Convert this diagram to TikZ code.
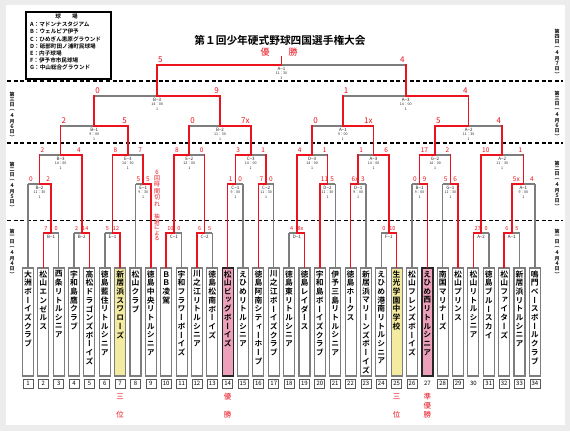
\documentclass[tikz,border=0pt]{standalone}
\usepackage{fontspec}
\setmainfont{Noto Sans CJK JP}[BoldFont={Noto Sans CJK JP Bold}]
\newfontfamily\vjp{Noto Sans CJK JP}[RawFeature=+vert,BoldFont={Noto Sans CJK JP Bold}]
\usetikzlibrary{calc}
\definecolor{lred}{RGB}{235,20,30}
\definecolor{lgray}{RGB}{125,125,125}
\definecolor{bgc}{RGB}{236,236,236}
\definecolor{yel}{RGB}{243,236,160}
\definecolor{pnk}{RGB}{236,160,185}
\pgfdeclarelayer{back}\pgfdeclarelayer{bg}\pgfsetlayers{back,bg,main}
\ExplSyntaxOn
\dim_new:N \l_vt_step_dim
\tl_new:N \l_vt_str_tl
\NewDocumentCommand \vtext { O{8.8pt} m }
  {
    \dim_set:Nn \l_vt_step_dim {#1}
    \tl_set:Nx \l_vt_str_tl {#2}
    \vbox:n
      {
        \offinterlineskip
        \tl_map_inline:Nn \l_vt_str_tl
          {
            \hbox_to_wd:nn { 1em }
              { \hss \vbox_to_ht:nn { \l_vt_step_dim } { \vss \hbox:n {##1} \vss } \hss }
          }
      }
  }
\ExplSyntaxOff
\tikzset{
  win/.style={draw=lred, line width=1.6pt, line cap=rect},
  lose/.style={draw=lgray, line width=1.4pt},
  tbox/.style={draw=lgray, line width=1.1pt, fill=white, minimum width=11pt, minimum height=108pt, inner sep=0},
  tboxY/.style={tbox, fill=yel},
  tboxP/.style={tbox, fill=pnk, draw=black!85, line width=1.3pt},
  tname/.style={anchor=north, inner sep=0, font=\vjp\bfseries\fontsize{7.8}{7.8}\selectfont},
  nbox/.style={draw=black!65, line width=0.7pt, fill=white, minimum width=10pt, minimum height=9pt, inner sep=0, font=\fontsize{6}{6}\selectfont},
  nplain/.style={minimum width=10pt, minimum height=9pt, inner sep=0, font=\fontsize{6}{6}\selectfont},
  sc1/.style={text=lred, inner sep=0, yshift=2pt, font=\fontsize{5.5}{5.5}\selectfont},
  sc2/.style={text=lred, inner sep=0, yshift=2pt, font=\fontsize{6.5}{6.5}\selectfont},
  sc3/.style={text=lred, inner sep=0, yshift=2.2pt, font=\fontsize{8}{8}\selectfont},
  mlab/.style={anchor=north, yshift=-1.6pt, align=center, inner sep=0, text=black!85, font=\fontsize{4.5}{4.6}\selectfont},
  dlab/.style={inner sep=0, font=\vjp\bfseries\fontsize{5}{5}\selectfont},
  leg/.style={anchor=west, inner sep=0, font=\bfseries\fontsize{5.6}{5.6}\selectfont},
  rank/.style={inner sep=0, text=lred, font=\fontsize{7.5}{7.5}\selectfont},
  dashline/.style={draw=black, line width=1.3pt, dash pattern=on 4pt off 2.6pt}
}
\newcommand\boutL[7]{%
  \begin{pgfonlayer}{bg}\draw[lose] (#3 |- #1) -- (#1);\end{pgfonlayer}
  \draw[#4] (#3) -- (#3 |- #1);
  \draw[win] (#2) |- (#1);
  \node[#7, anchor=south west, xshift=0.9pt] at (#2 |- #1) {#5};
  \node[#7, anchor=south east, xshift=-0.9pt] at (#3 |- #1) {#6};
}
\newcommand\boutR[7]{%
  \begin{pgfonlayer}{bg}\draw[lose] (#2 |- #1) -- (#1);\end{pgfonlayer}
  \draw[#4] (#2) -- (#2 |- #1);
  \draw[win] (#3) |- (#1);
  \node[#7, anchor=south west, xshift=0.9pt] at (#2 |- #1) {#5};
  \node[#7, anchor=south east, xshift=-0.9pt] at (#3 |- #1) {#6};
}
\newcommand\mlab[3]{\node[mlab] at (#1) {#2\\{\fontsize{3.6}{4}\selectfont #3}\\{\fontsize{3.6}{4}\selectfont 1}};}
\newcommand\mlabA[2]{\node[mlab] at (#1) {#2};}
\begin{document}
\begin{tikzpicture}[x=1pt,y=-1pt]
\useasboundingbox (0,0) rectangle (570,431);
\begin{pgfonlayer}{back}
  \fill[bgc] (0,0) rectangle (570,431);
  \fill[white] (6,5) rectangle (565,425);
\end{pgfonlayer}

% legend
\node[draw=black, line width=1.6pt, minimum width=85pt, minimum height=67pt, anchor=north west, inner sep=0] (legend) at (25,11) {};
\node[inner sep=0, font=\bfseries\fontsize{5.6}{5.6}\selectfont] (leghead) at (66.5,16) {球　　場};
\node[leg] (lA) at (30,24) {A：マドンナスタジアム};
\node[leg] (lB) at (30,31.5) {B：ウェルピア伊予};
\node[leg] (lC) at (30,39) {C：ひめぎん恵原グラウンド};
\node[leg] (lD) at (30,46) {D：砥部町田ノ浦町民球場};
\node[leg] (lE) at (30,53) {E：内子球場};
\node[leg] (lF) at (30,60) {F：伊予市市民球場};
\node[leg] (lG) at (30,67) {G：中山総合グラウンド};

% title
\node[inner sep=0, font=\bfseries\fontsize{10.7}{11}\selectfont] (title) at (280,40) {第１回少年硬式野球四国選手権大会};
\node[inner sep=0, text=lred, font=\fontsize{9}{9}\selectfont] (yu) at (265,52) {優};
\node[inner sep=0, text=lred, font=\fontsize{9}{9}\selectfont] (sho) at (293,52) {勝};

% dashed separators
\begin{pgfonlayer}{bg}
\coordinate (d1a) at (7,81); \coordinate (d1b) at (563,81);
\coordinate (d2a) at (7,143); \coordinate (d2b) at (563,143);
\coordinate (d3a) at (7,220.5); \coordinate (d3b) at (563,220.5);
\draw[dashline] (d1a) -- (d1b);
\draw[dashline] (d2a) -- (d2b);
\draw[dashline] (d3a) -- (d3b);
\end{pgfonlayer}

% day labels
\node[dlab] (r4) at (557,53) {\vtext[5.4pt]{第四日（４月７日）}};
\node[dlab] (r3) at (557,115) {\vtext[5.4pt]{第三日（４月６日）}};
\node[dlab] (r2) at (557,185) {\vtext[5.4pt]{第二日（４月５日）}};
\node[dlab] (r1) at (557,253) {\vtext[5.4pt]{第一日（４月４日）}};
\node[dlab] (l3) at (12,116) {\vtext[5.4pt]{第三日（４月６日）}};
\node[dlab] (l2) at (12,186) {\vtext[5.4pt]{第二日（４月５日）}};
\node[dlab] (l1) at (12,253) {\vtext[5.4pt]{第一日（４月４日）}};

% teams
\foreach \i/\nm/\ts/\ns in {
 1/大洲ボーイズクラブ/tbox/nbox,
 2/松山エンゼルス/tbox/nbox,
 3/西条リトルシニア/tbox/nbox,
 4/宇和島鷹クラブ/tbox/nbox,
 5/高松ドラゴンズボーイズ/tbox/nbox,
 6/徳島藍住リトルシニア/tbox/nbox,
 7/新居浜スワローズ/tboxY/nbox,
 8/松山クラブ/tbox/nbox,
 9/徳島中央リトルシニア/tbox/nbox,
 10/ＢＢ凌駕/tbox/nbox,
 11/宇和フラワーボーイズ/tbox/nbox,
 12/川之江リトルシニア/tbox/nbox,
 13/徳島松南ボーイズ/tbox/nbox,
 14/松山ビッグボーイズ/tboxP/nbox,
 15/えひめリトルシニア/tbox/nbox,
 16/徳島阿南シティーホープ/tbox/nbox,
 17/川之江ボーイズクラブ/tbox/nbox,
 18/徳島東リトルシニア/tbox/nbox,
 19/徳島レイダース/tbox/nbox,
 20/宇和島ボーイズクラブ/tbox/nbox,
 21/伊予三島リトルシニア/tbox/nbox,
 22/徳島ホークス/tbox/nbox,
 23/新居浜マリーンズボーイズ/tbox/nbox,
 24/えひめ港南リトルシニア/tbox/nbox,
 25/生光学園中学校/tboxY/nbox,
 26/松山フレンズボーイズ/tbox/nbox,
 27/えひめ西リトルシニア/tboxP/nplain,
 28/南国マリナーズ/tbox/nbox,
 29/松山プリンス/tbox/nbox,
 30/松山リトルシニア/tbox/nplain,
 31/徳島ブルースカイ/tbox/nbox,
 32/松山ファイターズ/tbox/nbox,
 33/新居浜リトルシニア/tbox/nbox,
 34/鳴門ベースボールクラブ/tbox/nbox}{
 \node[\ts] (t\i) at ({28+(\i-1)*15.36},322) {};
 \node[tname] (tn\i) at ([yshift=-2.2pt]t\i.north) {\vtext[8.7pt]{\nm}};
 \node[\ns] (n\i) at ({28+(\i-1)*15.36},383.5) {\i};
}

% ranks
\node[rank] (p7a) at (120.16,397) {三};
\node[rank] (p7b) at (120.16,415) {位};
\node[rank] (p14a) at (227.68,397) {優};
\node[rank] (p14b) at (227.68,415) {勝};
\node[rank] (p25a) at (396.64,397) {三};
\node[rank] (p25b) at (396.64,415) {位};
\node[rank] (p27a) at (427.36,397) {準};
\node[rank] (p27b) at (427.36,406) {優};
\node[rank] (p27c) at (427.36,415) {勝};

% match points
\coordinate (mB1) at (51.04,233);  \coordinate (mB2) at (81.76,233);
\coordinate (mE1) at (112.48,233); \coordinate (mC1) at (173.92,233);
\coordinate (mC2) at (204.64,233); \coordinate (mD1) at (296.8,233);
\coordinate (mF1) at (388.96,233); \coordinate (mA2) at (481.12,233);
\coordinate (mA1) at (511.84,233);
\coordinate (nB2) at (39.52,184);  \coordinate (nE1) at (143.2,184);
\coordinate (nC1) at (235.36,184); \coordinate (nC2) at (266.08,184);
\coordinate (nD2) at (327.52,184); \coordinate (nD1) at (358.24,184);
\coordinate (nB1) at (419.68,184); \coordinate (nG1) at (450.4,184);
\coordinate (nA1) at (523.36,184);
\coordinate (uB3) at (60.64,155);  \coordinate (uE3) at (127.84,155);
\coordinate (uE2) at (189.28,155); \coordinate (uC3) at (250.72,155);
\coordinate (uD3) at (312.16,155); \coordinate (uA3) at (373.6,155);
\coordinate (uG2) at (435.04,155); \coordinate (uA2) at (502.24,155);
\coordinate (qB1) at (94.24,126);  \coordinate (qB2) at (220,126);
\coordinate (qA1) at (342.88,126); \coordinate (qA2) at (468.64,126);
\coordinate (sB3) at (157.12,96);  \coordinate (sA3) at (405.76,96);
\coordinate (fin) at (281.44,65);  \coordinate (champ) at (281.44,57);

% round 1
\boutL{mB1}{t2.north}{t3.north}{lose}{7}{0}{sc1}
\boutR{mB2}{t4.north}{t5.north}{lose}{2}{14}{sc1}
\boutR{mE1}{t6.north}{t7.north}{lose}{5}{12}{sc1}
\boutL{mC1}{t10.north}{t11.north}{lose}{10}{0}{sc1}
\boutL{mC2}{t12.north}{t13.north}{lose}{6}{5}{sc1}
\boutR{mD1}{t18.north}{t19.north}{lose}{4}{8x}{sc1}
\boutR{mF1}{t24.north}{t25.north}{lose}{0}{10}{sc1}
\boutL{mA2}{t30.north}{t31.north}{lose}{27}{0}{sc1}
\boutL{mA1}{t32.north}{t33.north}{lose}{6}{5}{sc1}
% round 2 (first games)
\boutR{nB2}{t1.north}{mB1}{lose}{0}{2}{sc2}
\boutR{nE1}{t8.north}{t9.north}{lose}{5}{5}{sc2}
\boutL{nC1}{t14.north}{t15.north}{lose}{1}{0}{sc2}
\boutL{nC2}{t16.north}{t17.north}{lose}{7}{0}{sc2}
\boutL{nD2}{t20.north}{t21.north}{lose}{11}{5}{sc2}
\boutL{nD1}{t22.north}{t23.north}{lose}{6x}{3}{sc2}
\boutR{nB1}{t26.north}{t27.north}{lose}{0}{9}{sc2}
\boutR{nG1}{t28.north}{t29.north}{lose}{5}{6}{sc2}
\boutL{nA1}{mA1}{t34.north}{lose}{5x}{4}{sc2}
% round 2 (second games)
\boutR{uB3}{nB2}{mB2}{win}{2}{4}{sc2}
\boutL{uE3}{mE1}{nE1}{win}{8}{7}{sc2}
\boutL{uE2}{mC1}{mC2}{win}{8}{0}{sc2}
\boutL{uC3}{nC1}{nC2}{win}{3}{1}{sc2}
\boutL{uD3}{mD1}{nD2}{win}{4}{1}{sc2}
\boutR{uA3}{nD1}{mF1}{win}{1}{6}{sc2}
\boutL{uG2}{nB1}{nG1}{win}{17}{2}{sc2}
\boutL{uA2}{mA2}{nA1}{win}{10}{1}{sc2}
% quarterfinals
\boutR{qB1}{uB3}{uE3}{win}{2}{5}{sc3}
\boutR{qB2}{uE2}{uC3}{win}{0}{7x}{sc3}
\boutR{qA1}{uD3}{uA3}{win}{0}{1x}{sc3}
\boutL{qA2}{uG2}{uA2}{win}{5}{4}{sc3}
% semifinals
\boutR{sB3}{qB1}{qB2}{win}{0}{9}{sc3}
\boutR{sA3}{qA1}{qA2}{win}{1}{4}{sc3}
% final
\boutL{fin}{sB3}{sA3}{win}{5}{4}{sc3}
\draw[win] (fin) -- (champ);

% match labels
\mlabA{mB1}{B−1} \mlabA{mB2}{B−2} \mlabA{mE1}{E−1} \mlabA{mC1}{C−1}
\mlabA{mC2}{C−2} \mlabA{mD1}{D−1} \mlabA{mF1}{F−1} \mlabA{mA2}{A−2}
\mlabA{mA1}{A−1}
\mlab{nB2}{B−2}{11：30} \mlab{nE1}{E−1}{9：30} \mlab{nC1}{C−1}{9：00}
\mlab{nC2}{C−2}{11：30} \mlab{nD2}{D−2}{11：30} \mlab{nD1}{D−1}{9：00}
\mlab{nB1}{B−1}{9：00} \mlab{nG1}{G−1}{11：30} \mlab{nA1}{A−1}{9：00}
\mlab{uB3}{B−3}{14：00} \mlab{uE3}{E−3}{14：30} \mlab{uE2}{E−2}{12：00}
\mlab{uC3}{C−3}{14：00} \mlab{uD3}{D−3}{14：00} \mlab{uA3}{A−3}{14：00}
\mlab{uG2}{G−2}{14：00} \mlab{uA2}{A−2}{11：30}
\mlab{qB1}{B−1}{9：00} \mlab{qB2}{B−2}{11：30} \mlab{qA1}{A−1}{9：00}
\mlab{qA2}{A−2}{11：30}
\mlab{sB3}{B−3}{14：00} \mlab{sA3}{A−3}{14：00}
\mlab{fin}{A−1}{11：30}

% lottery note
\node[anchor=north, inner sep=0, text=lred, font=\vjp\fontsize{6}{6}\selectfont] (note1) at (157,168.5) {\vtext[6.4pt]{6回時間切れ}};
\node[anchor=north, inner sep=0, text=lred, font=\vjp\fontsize{5.6}{5.6}\selectfont] (note2) at (157,213.5) {\vtext[5.6pt]{抽選による}};
\end{tikzpicture}
\end{document}
